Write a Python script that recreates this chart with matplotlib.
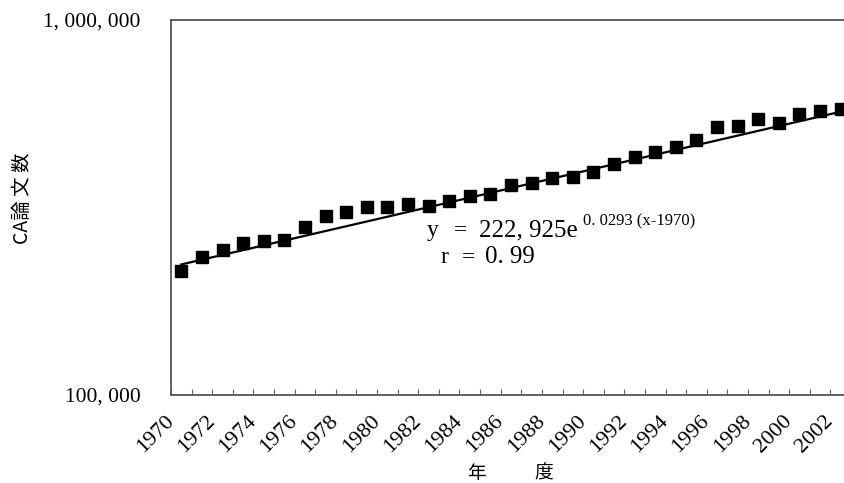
import numpy as np
import matplotlib.pyplot as plt
from matplotlib.ticker import FixedLocator, FixedFormatter

years = list(range(1970, 2003))
papers = [214100, 233800, 243200, 254800, 258000, 259100, 280500, 300800,
          307600, 317200, 317800, 322500, 319800, 329100, 339400, 343600,
          362400, 368200, 379100, 381400, 393300, 413900, 432100, 445600,
          458600, 478600, 517600, 521700, 543600, 532300, 560500, 572000,
          578000]

# fit shown in the chart: y = 222,925 e^{0.0293 (x-1970)}
fit_a = 222925
fit_b = 0.0293

serif = ['Liberation Serif', 'Noto Sans CJK JP']
cjk = ['Noto Sans CJK JP', 'Liberation Serif']

fig = plt.figure(figsize=(8.44, 4.83), dpi=100)
ax = fig.add_axes([171 / 844, 1 - 395 / 483, 680 / 844, 375 / 483])

# category axis: each year sits between tick marks
pos = np.arange(len(years)) + 0.5
yr = np.array(years)
fit = fit_a * np.exp(fit_b * (yr - 1970))

ax.plot(pos, fit, color='black', linewidth=1.6, zorder=2)
ax.plot(pos, papers, linestyle='none', marker='s', markersize=8,
        color='black', zorder=3)

ax.set_yscale('log')
ax.set_ylim(100000, 1000000)
ax.set_xlim(0, len(years))

ax.yaxis.set_major_locator(FixedLocator([100000, 1000000]))
ax.yaxis.set_major_formatter(FixedFormatter(['100, 000', '1, 000, 000']))
ax.yaxis.set_minor_locator(FixedLocator([]))
ax.tick_params(axis='y', length=0, pad=22)
for lab in ax.get_yticklabels():
    lab.set_family(serif)
    lab.set_fontsize(15.5)

ax.set_xticks(np.arange(len(years)))
ax.set_xticklabels([str(y) if y % 2 == 0 else '' for y in years],
                   rotation=45, ha='right', va='center', rotation_mode='anchor',
                   family=serif, fontsize=16)
ax.tick_params(axis='x', direction='in', length=4, width=0.8,
               color='#666666', pad=17)

for side in ['left', 'top', 'bottom']:
    ax.spines[side].set_color('#555555')
    ax.spines[side].set_linewidth(1.3)
ax.spines['right'].set_visible(False)

# equation and correlation
ax.text(0.376, 0.424, 'y', transform=ax.transAxes,
        family=serif, fontsize=17, ha='left', va='baseline')
ax.text(0.416, 0.424, '=', transform=ax.transAxes,
        family=serif, fontsize=17, ha='left', va='baseline')
ax.text(0.453, 0.424, '222, 925e', transform=ax.transAxes,
        family=serif, fontsize=18, ha='left', va='baseline')
ax.text(0.606, 0.453, '0. 0293 (x-1970)', transform=ax.transAxes,
        family=serif, fontsize=12, ha='left', va='baseline')
ax.text(0.397, 0.352, 'r', transform=ax.transAxes,
        family=serif, fontsize=17, ha='left', va='baseline')
ax.text(0.428, 0.352, '=', transform=ax.transAxes,
        family=serif, fontsize=17, ha='left', va='baseline')
ax.text(0.462, 0.352, '0. 99', transform=ax.transAxes,
        family=serif, fontsize=18, ha='left', va='baseline')

fig.text(22 / 844, 1 - 198 / 483, 'CA論 文 数', rotation=90, family=cjk,
         fontsize=14, ha='center', va='center')
fig.text(476 / 844, 1 - 473 / 483, '年', family=cjk,
         fontsize=13.5, ha='center', va='center')
fig.text(544 / 844, 1 - 473 / 483, '度', family=cjk,
         fontsize=13.5, ha='center', va='center')

fig.savefig('out.png', dpi=100)
